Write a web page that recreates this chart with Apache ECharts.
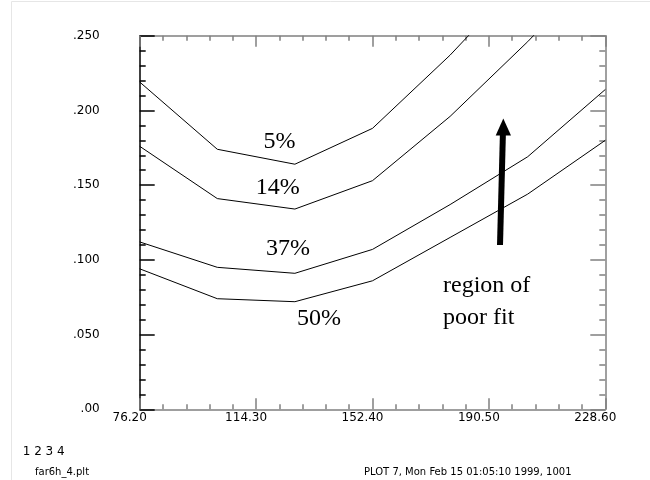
<!DOCTYPE html>
<html>
<head>
<meta charset="utf-8">
<script src="https://cdn.jsdelivr.net/npm/echarts@6/dist/echarts.min.js"></script>
<style>html,body{margin:0;padding:0;background:#fff;}#c{width:650px;height:480px;}</style>
</head>
<body>
<div id="c"></div>
<script>
// x positions (mm) of the contour vertices
const xVals = [76.2, 101.6, 127.0, 152.4, 177.8, 203.2, 228.6];
// contour levels
const p5  = [0.219, 0.174, 0.164, 0.188, 0.237, 0.292, 0.350];
const p14 = [0.176, 0.141, 0.134, 0.153, 0.196, 0.246, 0.300];
const p37 = [0.112, 0.095, 0.091, 0.107, 0.137, 0.169, 0.214];
const p50 = [0.094, 0.074, 0.072, 0.086, 0.115, 0.144, 0.180];
const seriesNames = ['5%', '14%', '37%', '50%'];
const seriesVals = [p5, p14, p37, p50];
// axis settings
const xMin = 76.2, xMax = 228.6, xStep = 38.1;
const yMin = 0, yMax = 0.25, yStep = 0.05;
const footerLeft = '1 2 3 4';
const footerFile = 'far6h_4.plt';
const footerPlot = 'PLOT 7, Mon Feb 15 01:05:10 1999, 1001';

const chart = echarts.init(document.getElementById('c'), null, {renderer: 'canvas'});
const gray = '#808080';
const labFont = {fontFamily: 'DejaVu Sans', fontSize: 12, color: '#000'};
function xAxisCfg(pos, showLabel) {
  return {
    type: 'value', position: pos, min: xMin, max: xMax, interval: xStep,
    axisLine: {show: true, onZero: false, lineStyle: {color: gray, width: 1.5}},
    axisTick: {show: true, inside: true, length: 11, lineStyle: {color: gray, width: 1.5}},
    minorTick: {show: true, splitNumber: 5, length: 5, lineStyle: {color: gray, width: 1.5}},
    splitLine: {show: false},
    axisLabel: showLabel ? Object.assign({show: true, margin: 3, padding: [0, 20, 0, 0],
      formatter: v => v.toFixed(2)}, labFont) : {show: false}
  };
}
function yAxisCfg(pos, showLabel, col) {
  return {
    type: 'value', position: pos, min: yMin, max: yMax, interval: yStep,
    axisLine: {show: true, onZero: false, lineStyle: {color: col, width: 1.5}},
    axisTick: {show: true, inside: true, length: 15, lineStyle: {color: col, width: 1.5}},
    minorTick: {show: true, splitNumber: 5, length: 6, lineStyle: {color: col, width: 1.5}},
    splitLine: {show: false},
    axisLabel: showLabel ? Object.assign({show: true, margin: 40, padding: [0, 0, 8, 0],
      formatter: v => (Math.abs(v) < 1e-9 ? '.00' : v.toFixed(3).slice(1))}, labFont) : {show: false}
  };
}

const series = seriesVals.map((vals, i) => ({
  name: seriesNames[i], type: 'line', xAxisIndex: 0, yAxisIndex: 0,
  data: xVals.map((x, j) => [x, vals[j]]),
  symbol: 'none', clip: true, animation: false,
  lineStyle: {color: '#000', width: 1}
}));

const serif = 'Liberation Serif, Times New Roman, serif';
function txt(x, y, s, size, fam, align, vAlign) {
  return {type: 'text', x: x, y: y, silent: true, z: 10,
    style: {text: s, fontSize: size, fontFamily: fam, fill: '#000',
      textAlign: align || 'center', textVerticalAlign: vAlign || 'middle'}};
}

chart.setOption({
  animation: false,
  backgroundColor: '#fff',
  grid: {left: 139.7, top: 35.7, right: 44.7, bottom: 70.7, containLabel: false},
  xAxis: [xAxisCfg('bottom', true), xAxisCfg('top', false)],
  yAxis: [yAxisCfg('left', true, '#000'), yAxisCfg('right', false, gray)],
  series: series,
  graphic: [
    {type: 'line', silent: true, shape: {x1: 11.5, y1: 1.5, x2: 650, y2: 1.5}, style: {stroke: '#e6e6e6', lineWidth: 1}},
    {type: 'line', silent: true, shape: {x1: 11.5, y1: 1.5, x2: 11.5, y2: 480}, style: {stroke: '#e6e6e6', lineWidth: 1}},
    txt(279.5, 141.5, '5%', 24, serif),
    txt(277.7, 187.5, '14%', 24, serif),
    txt(288, 248.7, '37%', 24, serif),
    txt(319, 318.7, '50%', 24, serif),
    txt(443, 286, 'region of', 24, serif, 'left'),
    txt(443, 318, 'poor fit', 24, serif, 'left'),
    {type: 'line', silent: true, z: 10, shape: {x1: 500, y1: 245, x2: 503, y2: 130},
      style: {stroke: '#000', lineWidth: 6}},
    {type: 'polygon', silent: true, z: 10, shape: {points: [[503.3, 118.5], [495.7, 135.5], [511, 135.5]]},
      style: {fill: '#000'}},
    txt(22.7, 451.7, footerLeft, 12, 'DejaVu Sans', 'left'),
    txt(35, 472, footerFile, 10, 'DejaVu Sans', 'left'),
    txt(364, 472, footerPlot, 10, 'DejaVu Sans', 'left')
  ]
});
</script>
</body>
</html>
